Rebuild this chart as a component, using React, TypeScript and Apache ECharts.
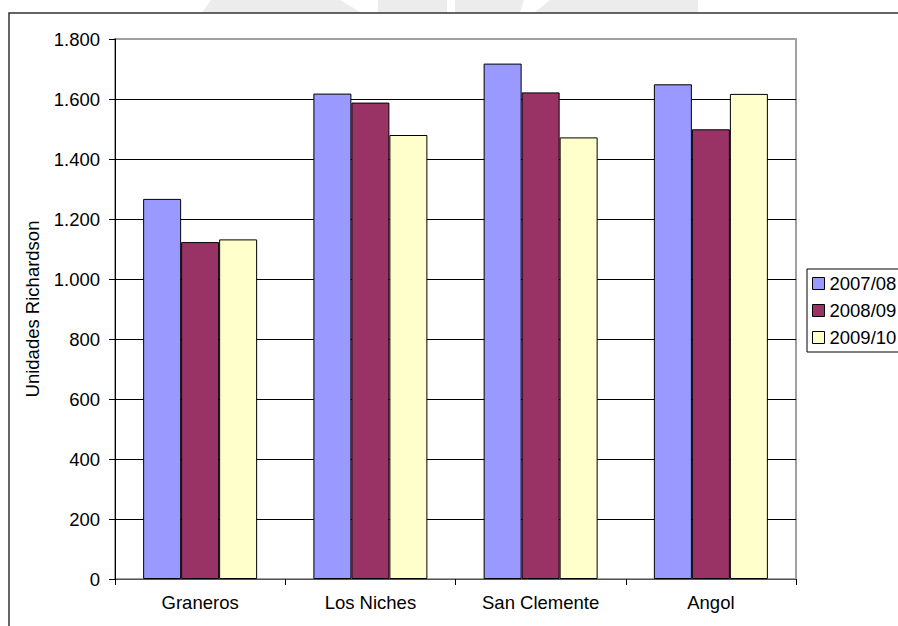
import React, { useEffect, useRef } from "react";
import * as echarts from "echarts";

const categories = ["Graneros", "Los Niches", "San Clemente", "Angol"];
const seriesNames = ["2007/08", "2008/09", "2009/10"];
const values2007 = [1267, 1618, 1718, 1649];
const values2008 = [1123, 1588, 1622, 1499];
const values2009 = [1132, 1480, 1472, 1617];
const seriesColors = ["#9999FF", "#993366", "#FFFFCC"];
const yTicks = [0, 200, 400, 600, 800, 1000, 1200, 1400, 1600, 1800];

const FONT = "'Liberation Sans', Arial, Helvetica, sans-serif";

function fmt(v: number): string {
  return String(v).replace(/\B(?=(\d{3})+(?!\d))/g, ".");
}

export default function App() {
  const ref = useRef<HTMLDivElement>(null);
  useEffect(() => {
    if (!ref.current) return;
    const chart = echarts.init(ref.current, undefined, { renderer: "svg" });
    const allValues = [values2007, values2008, values2009];
    const splitColors = yTicks.map((t, i) => (i === yTicks.length - 1 ? "#a0a0a0" : "#000000"));
    chart.setOption({
      animation: false,
      backgroundColor: "#ffffff",
      textStyle: { fontFamily: FONT },
      graphic: [
        { type: "polygon", shape: { points: [[202, 13], [211, 0], [340, 0], [362, 13]] }, style: { fill: "#ececec" }, z: -10 },
        { type: "polygon", shape: { points: [[378, 13], [378, 0], [447, 0], [447, 13]] }, style: { fill: "#ececec" }, z: -10 },
        { type: "polygon", shape: { points: [[455, 13], [455, 0], [524, 0], [520, 13]] }, style: { fill: "#ececec" }, z: -10 },
        { type: "polygon", shape: { points: [[534, 13], [550, 0], [698, 0], [698, 13]] }, style: { fill: "#ececec" }, z: -10 },
        { type: "rect", shape: { x: 9, y: 13, width: 1000, height: 1000 }, style: { fill: "none", stroke: "#333333", lineWidth: 1.5 }, z: -5 },
      ],
      grid: {
        left: 115,
        top: 39,
        right: 102,
        bottom: 47,
        show: true,
        borderColor: "#a0a0a0",
        borderWidth: 2,
        backgroundColor: "transparent",
      },
      legend: {
        orient: "vertical",
        left: 807,
        top: 269,
        padding: [5, 16, 5, 5],
        itemGap: 8,
        itemWidth: 12,
        itemHeight: 12,
        borderColor: "#000000",
        borderWidth: 1,
        icon: "rect",
        textStyle: { fontSize: 18.5, color: "#000000", fontFamily: FONT },
        itemStyle: { borderColor: "#000000", borderWidth: 1 },
        data: seriesNames,
      },
      xAxis: {
        type: "category",
        data: categories,
        axisLine: { show: true, lineStyle: { color: "#555555", width: 1 } },
        axisTick: { show: true, length: 6, lineStyle: { color: "#000000" } },
        axisLabel: { fontSize: 18.5, color: "#000000", margin: 14, fontFamily: FONT },
        splitLine: { show: false },
      },
      yAxis: {
        type: "value",
        min: 0,
        max: 1800,
        interval: 200,
        name: "Unidades Richardson",
        nameLocation: "middle",
        nameRotate: 90,
        nameGap: 73,
        nameTextStyle: { fontSize: 18.5, color: "#000000", fontFamily: FONT },
        axisLine: { show: true, lineStyle: { color: "#000000", width: 1 } },
        axisTick: { show: true, length: 6, lineStyle: { color: "#000000" } },
        axisLabel: { fontSize: 18.5, color: "#000000", margin: 15, fontFamily: FONT, formatter: (v: number) => fmt(v) },
        splitLine: { show: true, lineStyle: { color: splitColors, width: 1 } },
      },
      series: seriesNames.map((name, i) => ({
        name,
        type: "bar",
        data: allValues[i],
        barWidth: 38,
        barGap: "0%",
        itemStyle: { color: seriesColors[i], borderColor: "#000000", borderWidth: 1 },
      })),
    });
    return () => chart.dispose();
  }, []);
  return (
    <div
      ref={ref}
      style={{ position: "fixed", left: 0, top: 0, width: 898, height: 626 }}
    />
  );
}
